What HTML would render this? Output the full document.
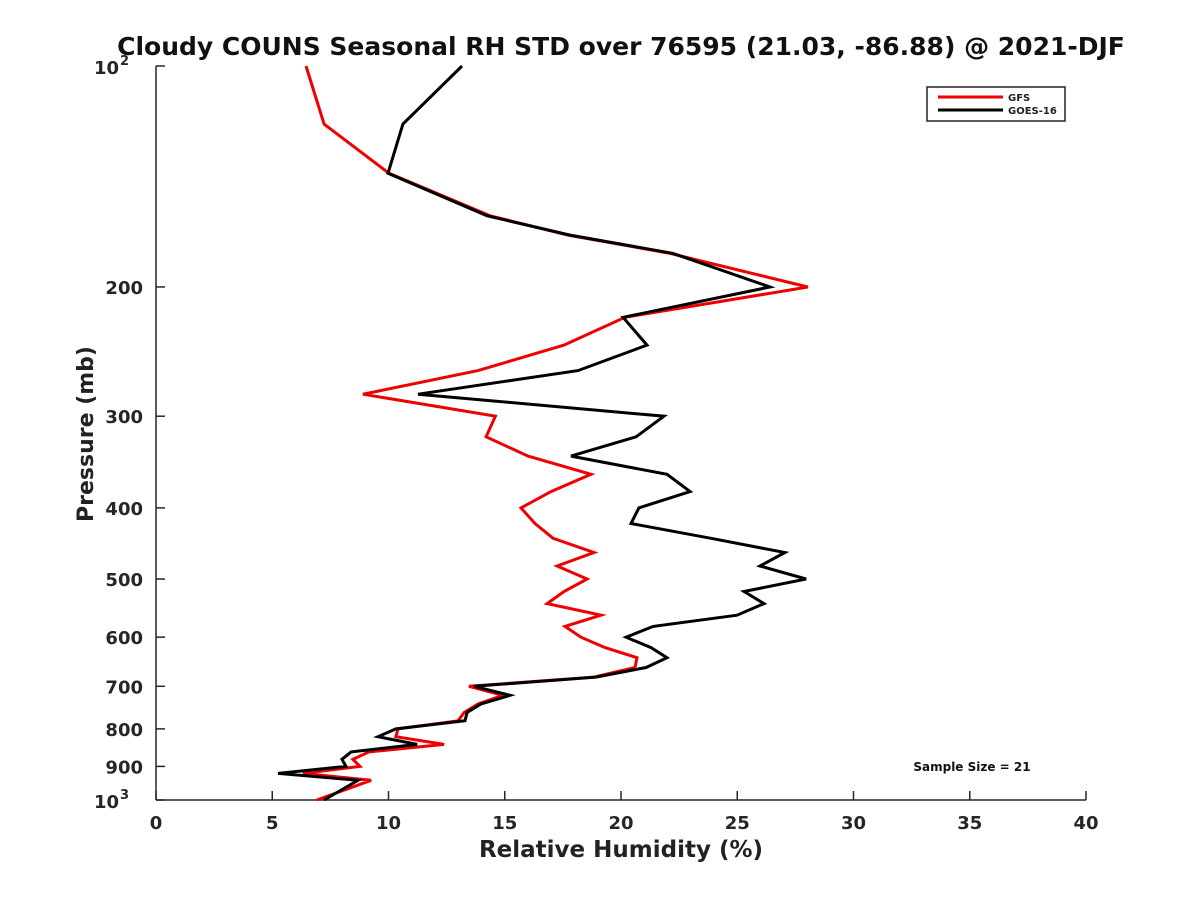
<!DOCTYPE html>
<html><head><meta charset="utf-8"><style>
body{margin:0;background:#fff;}
svg{display:block;font-family:"DejaVu Sans","Liberation Sans",sans-serif;font-weight:bold;}
</style></head><body>
<svg id="chart" width="1200" height="900" viewBox="0 0 1200 900">
<text x="621" y="55" text-anchor="middle" font-size="25" fill="#111">Cloudy COUNS Seasonal RH STD over 76595 (21.03, -86.88) @ 2021-DJF</text>
<g id="axes"></g>
<g id="series"></g>
<g>
<rect x="927" y="87" width="138" height="34" fill="#fff" stroke="#222" stroke-width="1.5"/>
<line x1="938" y1="97" x2="1003" y2="97" stroke="#e00" stroke-width="3"/>
<text x="1008" y="101" font-size="10" fill="#222">GFS</text>
<line x1="938" y1="110" x2="1003" y2="110" stroke="#000" stroke-width="3"/>
<text x="1008" y="114" font-size="10" fill="#222">GOES-16</text>
</g>
<text x="972" y="771" text-anchor="middle" font-size="12" fill="#111">Sample Size = 21</text>
<text x="621" y="857" text-anchor="middle" font-size="23" fill="#222">Relative Humidity (%)</text>
<text transform="translate(93,434) rotate(-90)" text-anchor="middle" font-size="22" fill="#222">Pressure (mb)</text>
</svg>
<script>
const pressures=[100,120,140,160,170,180,200,220,240,260,280,300,320,340,360,380,400,420,440,460,480,500,520,540,560,580,600,620,640,660,680,700,720,740,760,780,800,820,840,860,880,900,920,940,1000];
const gfsRH=[6.45,7.23,10.02,14.37,17.72,22.11,28.04,20.17,17.55,13.85,8.90,14.6,14.2,16.0,18.71,16.99,15.70,16.30,17.08,18.84,17.25,18.54,17.55,16.82,19.14,17.59,18.28,19.31,20.69,20.60,18.84,13.46,14.92,13.85,13.25,12.99,10.41,10.32,12.39,9.16,8.47,8.77,6.32,9.25,6.92];
const goesRH=[13.16,10.62,9.98,14.24,17.81,22.24,26.41,20.09,21.12,18.15,11.27,21.85,20.65,17.85,21.98,22.97,20.77,20.43,23.87,27.05,25.98,27.96,25.29,26.15,24.99,21.38,20.22,21.29,21.98,21.08,18.92,13.68,15.23,13.98,13.38,13.29,10.32,9.55,11.23,8.39,8.0,8.17,5.25,8.69,7.23];
const xTicks=[0,5,10,15,20,25,30,35,40];
const yTicks=[200,300,400,500,600,700,800,900];
const NS='http://www.w3.org/2000/svg';
const X0=156,X1=1086,Y0=66,Y1=800;
function xs(v){return X0+(v-0)/40*(X1-X0);}
function ys(p){return Y0+Math.log10(p/100)*(Y1-Y0);}
function mk(tag,attrs,parent){const e=document.createElementNS(NS,tag);for(const k in attrs)e.setAttribute(k,attrs[k]);parent.appendChild(e);return e;}
const axes=document.getElementById('axes');
let l=mk('line',{x1:X0,y1:Y0,x2:X0,y2:Y1,stroke:'#262626','stroke-width':1.5},axes);


l=mk('line',{x1:X0,y1:Y1,x2:X1,y2:Y1,stroke:'#262626','stroke-width':1.5},axes);


xTicks.forEach(v=>{
  const x=xs(v);
  const t=mk('line',{x1:x,y1:Y1,x2:x,y2:Y1-9,stroke:'#262626','stroke-width':1.5},axes);
  
  
  const tx=mk('text',{x:x,y:Y1+29,'text-anchor':'middle','font-size':18,fill:'#262626'},axes);
  tx.textContent=v;
  
  
});
yTicks.concat([100,1000]).forEach(p=>{
  const y=ys(p);
  const t=mk('line',{x1:X0,y1:y,x2:X0+9,y2:y,stroke:'#262626','stroke-width':1.5},axes);
  
  
});
yTicks.forEach(p=>{
  const tx=mk('text',{x:X0-13,y:ys(p)+7,'text-anchor':'end','font-size':18,fill:'#262626'},axes);
  tx.textContent=p;
  
  
});
[[100,'2'],[1000,'3']].forEach(([p,e])=>{
  const tx=mk('text',{x:X0-37,y:ys(p)+8,'text-anchor':'end','font-size':18,fill:'#262626'},axes);
  tx.textContent='10';
  
  
  const ex=mk('text',{x:X0-36,y:ys(p)-1,'font-size':13,fill:'#262626'},axes);
  ex.textContent=e;
  
  
});
const ser=document.getElementById('series');
function draw(vals,color,name){
  const pts=vals.map((v,i)=>xs(v).toFixed(1)+','+ys(pressures[i]).toFixed(1)).join(' ');
  const pl=mk('polyline',{points:pts,fill:'none',stroke:color,'stroke-width':3,'stroke-linejoin':'miter'},ser);
  
  
}
draw(gfsRH,'#e00','gfs-line');
draw(goesRH,'#000','goes16-line');
</script>
</body></html>
